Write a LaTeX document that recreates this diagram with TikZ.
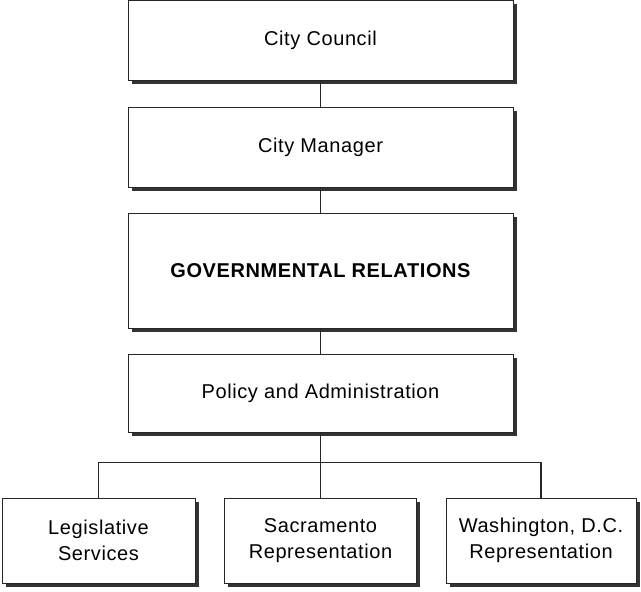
\documentclass[tikz,border=0pt]{standalone}
\usepackage{fontspec}
\setmainfont{Liberation Sans}[LetterSpace=3]
\usetikzlibrary{shadows}
\begin{document}
\begin{tikzpicture}[x=1pt,y=-1pt,
  orgbox/.style={draw=black!85, line width=0.8pt, fill=white, inner sep=0pt, align=center,
    font=\fontsize{20}{26}\selectfont,
    drop shadow={shadow xshift=3.5pt, shadow yshift=-3.5pt, opacity=1, fill=black!80}},
  link/.style={draw=black!85, line width=1.1pt}]
\useasboundingbox (0,0) rectangle (641,592);
\node[orgbox, minimum width=385pt, minimum height=80pt] (cc) at (320.5,40) {City Council};
\node[orgbox, minimum width=385pt, minimum height=80pt] (cm) at (320.5,147) {City Manager};
\node[orgbox, minimum width=385pt, minimum height=115pt, font=\fontsize{20}{26}\selectfont\bfseries] (gr) at (320.5,270.5) {GOVERNMENTAL RELATIONS};
\node[orgbox, minimum width=385pt, minimum height=78pt] (pa) at (320.5,393) {Policy and Administration};
\node[orgbox, minimum width=193pt, minimum height=85pt] (ls) at (98.5,540.5) {Legislative\\Services};
\node[orgbox, minimum width=192pt, minimum height=85pt] (sr) at (320.5,540.5) {Sacramento\\Representation};
\node[orgbox, minimum width=190pt, minimum height=85pt] (wr) at (541,540.5) {Washington, D.C.\\Representation};
\coordinate (bus) at (320.5,462.3);
\draw[link] (cc.south) -- (cm.north);
\draw[link] (cm.south) -- (gr.north);
\draw[link] (gr.south) -- (pa.north);
\draw[link] (pa.south) -- (sr.north);
\draw[link] (ls.north) |- (bus) -| (wr.north);
\end{tikzpicture}
\end{document}
